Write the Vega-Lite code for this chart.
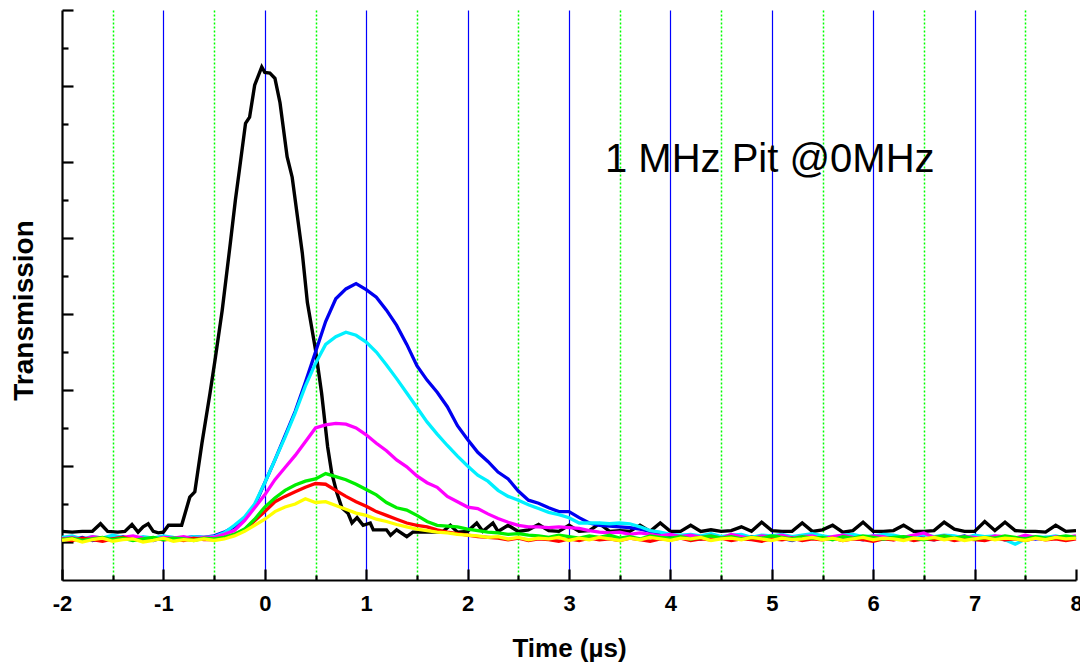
{
"$schema":"https://vega.github.io/schema/vega-lite/v6.json",
"width":1014,"height":570,
"autosize":{"type":"none"},
"padding":{"left":62,"top":10,"right":4,"bottom":85},
"background":"white",
"config":{"view":{"stroke":null},"font":"Liberation Sans","axis":{"domainColor":"black","tickColor":"black","domainWidth":2.2,"tickWidth":2.2,"labelColor":"black","titleColor":"black"}},
"resolve":{"axis":{"x":"independent","y":"independent"}},
"layer":[
{"data":{"values":[{"t":-2,"v":0.14},{"t":-1.9,"v":0.13},{"t":-1.8,"v":0.14},{"t":-1.7,"v":0.14},{"t":-1.62,"v":0.24},{"t":-1.55,"v":0.14},{"t":-1.45,"v":0.13},{"t":-1.38,"v":0.14},{"t":-1.31,"v":0.23},{"t":-1.25,"v":0.13},{"t":-1.2,"v":0.2},{"t":-1.15,"v":0.24},{"t":-1.1,"v":0.14},{"t":-1.05,"v":0.12},{"t":-1.0,"v":0.13},{"t":-0.95,"v":0.22},{"t":-0.82,"v":0.22},{"t":-0.74,"v":0.59},{"t":-0.69,"v":0.66},{"t":-0.62,"v":1.3},{"t":-0.54,"v":1.96},{"t":-0.49,"v":2.4},{"t":-0.42,"v":3.05},{"t":-0.34,"v":3.93},{"t":-0.29,"v":4.5},{"t":-0.25,"v":4.9},{"t":-0.19,"v":5.51},{"t":-0.15,"v":5.59},{"t":-0.1,"v":6.01},{"t":-0.03,"v":6.25},{"t":0.0,"v":6.18},{"t":0.05,"v":6.17},{"t":0.1,"v":6.1},{"t":0.15,"v":5.78},{"t":0.22,"v":5.07},{"t":0.27,"v":4.8},{"t":0.37,"v":3.8},{"t":0.42,"v":3.15},{"t":0.5,"v":2.53},{"t":0.56,"v":1.96},{"t":0.62,"v":1.25},{"t":0.66,"v":0.91},{"t":0.71,"v":0.65},{"t":0.76,"v":0.45},{"t":0.82,"v":0.38},{"t":0.86,"v":0.25},{"t":0.91,"v":0.32},{"t":0.97,"v":0.22},{"t":1.04,"v":0.25},{"t":1.07,"v":0.16},{"t":1.2,"v":0.16},{"t":1.24,"v":0.09},{"t":1.3,"v":0.16},{"t":1.4,"v":0.07},{"t":1.46,"v":0.13},{"t":1.66,"v":0.13},{"t":1.75,"v":0.13},{"t":1.83,"v":0.22},{"t":1.9,"v":0.13},{"t":2.0,"v":0.14},{"t":2.09,"v":0.25},{"t":2.15,"v":0.14},{"t":2.25,"v":0.25},{"t":2.3,"v":0.14},{"t":2.4,"v":0.22},{"t":2.5,"v":0.14},{"t":2.6,"v":0.16},{"t":2.7,"v":0.23},{"t":2.8,"v":0.15},{"t":2.9,"v":0.14},{"t":3.0,"v":0.22},{"t":3.1,"v":0.14},{"t":3.2,"v":0.15},{"t":3.3,"v":0.24},{"t":3.4,"v":0.14},{"t":3.5,"v":0.15},{"t":3.6,"v":0.14},{"t":3.7,"v":0.22},{"t":3.8,"v":0.14},{"t":3.9,"v":0.25},{"t":4.0,"v":0.14},{"t":4.1,"v":0.14},{"t":4.2,"v":0.22},{"t":4.3,"v":0.14},{"t":4.4,"v":0.16},{"t":4.5,"v":0.14},{"t":4.6,"v":0.15},{"t":4.7,"v":0.2},{"t":4.8,"v":0.14},{"t":4.9,"v":0.26},{"t":5.0,"v":0.15},{"t":5.1,"v":0.14},{"t":5.2,"v":0.14},{"t":5.3,"v":0.25},{"t":5.4,"v":0.14},{"t":5.5,"v":0.16},{"t":5.6,"v":0.22},{"t":5.7,"v":0.13},{"t":5.8,"v":0.15},{"t":5.9,"v":0.26},{"t":6.0,"v":0.14},{"t":6.1,"v":0.14},{"t":6.2,"v":0.15},{"t":6.3,"v":0.22},{"t":6.4,"v":0.14},{"t":6.5,"v":0.14},{"t":6.6,"v":0.15},{"t":6.7,"v":0.26},{"t":6.8,"v":0.17},{"t":6.9,"v":0.14},{"t":7.0,"v":0.14},{"t":7.1,"v":0.27},{"t":7.2,"v":0.15},{"t":7.3,"v":0.26},{"t":7.4,"v":0.15},{"t":7.5,"v":0.14},{"t":7.6,"v":0.14},{"t":7.7,"v":0.13},{"t":7.8,"v":0.22},{"t":7.9,"v":0.14},{"t":8.0,"v":0.15}]},
 "mark":{"type":"line","color":"black","strokeWidth":3.4,"clip":true},
 "encoding":{
  "x":{"field":"t","type":"quantitative","scale":{"domain":[-2,8],"nice":false,"zero":false},
   "axis":{"orient":"bottom","values":[-2,-1,0,1,2,3,4,5,6,7,8],"labelExpr":"'' + datum.value","title":"Time (µs)","titleFont":"Liberation Sans","titleFontSize":26,"titleFontWeight":"bold","titleY":68,"titleBaseline":"middle","labelFont":"Liberation Sans","labelFontSize":22,"labelFontWeight":"bold","labelFlush":false,"labelPadding":24,"tickSize":-11,"grid":true,"gridColor":"#0000ff","gridWidth":1.2,"gridOpacity":{"condition":{"test":"datum.value <= -2 || datum.value >= 8","value":0},"value":1}}},
  "y":{"field":"v","type":"quantitative","scale":{"domain":[-0.5,7],"nice":false,"zero":false},
   "axis":{"orient":"left","values":[0,1,2,3,4,5,6,7],"labels":false,"tickSize":-11,"grid":false,"title":"Transmission","titleFont":"Liberation Sans","titleFontSize":28,"titleFontWeight":"bold","titleX":-38,"titleY":300,"titleBaseline":"middle","titleAngle":-90}}}},
{"data":{"values":[{"t":-2,"v":0.05},{"t":-1.9,"v":0.03},{"t":-1.8,"v":0.06},{"t":-1.7,"v":0.02},{"t":-1.6,"v":0.05},{"t":-1.5,"v":0.04},{"t":-1.4,"v":0.07},{"t":-1.3,"v":0.03},{"t":-1.2,"v":0.05},{"t":-1.1,"v":0.02},{"t":-1,"v":0.06},{"t":-0.9,"v":0.04},{"t":-0.8,"v":0.05},{"t":-0.7,"v":0.07},{"t":-0.6,"v":0.06},{"t":-0.5,"v":0.08},{"t":-0.4,"v":0.13},{"t":-0.3,"v":0.2},{"t":-0.2,"v":0.3},{"t":-0.1,"v":0.48},{"t":0,"v":0.78},{"t":0.1,"v":1.08},{"t":0.2,"v":1.4},{"t":0.3,"v":1.72},{"t":0.4,"v":2.1},{"t":0.5,"v":2.5},{"t":0.6,"v":2.9},{"t":0.7,"v":3.2},{"t":0.8,"v":3.33},{"t":0.9,"v":3.4},{"t":1,"v":3.32},{"t":1.1,"v":3.22},{"t":1.2,"v":3.05},{"t":1.3,"v":2.85},{"t":1.4,"v":2.6},{"t":1.5,"v":2.32},{"t":1.6,"v":2.13},{"t":1.7,"v":1.97},{"t":1.8,"v":1.78},{"t":1.9,"v":1.53},{"t":2,"v":1.35},{"t":2.1,"v":1.18},{"t":2.2,"v":1.06},{"t":2.3,"v":0.92},{"t":2.4,"v":0.83},{"t":2.5,"v":0.67},{"t":2.6,"v":0.55},{"t":2.7,"v":0.51},{"t":2.8,"v":0.45},{"t":2.9,"v":0.4},{"t":3,"v":0.4},{"t":3.1,"v":0.32},{"t":3.2,"v":0.25},{"t":3.3,"v":0.22},{"t":3.4,"v":0.21},{"t":3.5,"v":0.2},{"t":3.6,"v":0.19},{"t":3.7,"v":0.17},{"t":3.8,"v":0.14},{"t":3.9,"v":0.11},{"t":4,"v":0.08},{"t":4.1,"v":0.07},{"t":4.2,"v":0.05},{"t":4.3,"v":0.04},{"t":4.4,"v":0.08},{"t":4.5,"v":0.06},{"t":4.6,"v":0.03},{"t":4.7,"v":0.05},{"t":4.8,"v":0.07},{"t":4.9,"v":0.04},{"t":5,"v":0.06},{"t":5.1,"v":0.05},{"t":5.2,"v":0.02},{"t":5.3,"v":0.06},{"t":5.4,"v":0.08},{"t":5.5,"v":0.05},{"t":5.6,"v":0.04},{"t":5.7,"v":0.06},{"t":5.8,"v":0.05},{"t":5.9,"v":0.03},{"t":6,"v":0.07},{"t":6.1,"v":0.05},{"t":6.2,"v":0.06},{"t":6.3,"v":0.04},{"t":6.4,"v":0.07},{"t":6.5,"v":0.05},{"t":6.6,"v":0.03},{"t":6.7,"v":0.06},{"t":6.8,"v":0.05},{"t":6.9,"v":0.08},{"t":7,"v":0.04},{"t":7.1,"v":0.05},{"t":7.2,"v":0.06},{"t":7.3,"v":0.03},{"t":7.4,"v":0.05},{"t":7.5,"v":0.07},{"t":7.6,"v":0.04},{"t":7.7,"v":0.06},{"t":7.8,"v":0.05},{"t":7.9,"v":0.04},{"t":8,"v":0.06}]},
 "mark":{"type":"line","color":"#0000f0","strokeWidth":3.3},
 "encoding":{
  "x":{"field":"t","type":"quantitative","axis":{"orient":"bottom","values":[-1.5,-0.5,0.5,1.5,2.5,3.5,4.5,5.5,6.5,7.5],"labels":false,"domain":false,"title":null,"tickSize":-5,"grid":true,"gridColor":"#00ff00","gridDash":[2,2],"gridWidth":1.5}},
  "y":{"field":"v","type":"quantitative","axis":{"orient":"left","values":[0.5,1.5,2.5,3.5,4.5,5.5,6.5],"labels":false,"domain":false,"title":null,"tickSize":-6,"grid":false}}}},
{"data":{"values":[{"t":-2,"v":0.06},{"t":-1.9,"v":0.08},{"t":-1.8,"v":0.04},{"t":-1.7,"v":0.07},{"t":-1.6,"v":0.05},{"t":-1.5,"v":0.09},{"t":-1.4,"v":0.06},{"t":-1.3,"v":0.04},{"t":-1.2,"v":0.07},{"t":-1.1,"v":0.05},{"t":-1,"v":0.08},{"t":-0.9,"v":0.06},{"t":-0.8,"v":0.05},{"t":-0.7,"v":0.07},{"t":-0.6,"v":0.06},{"t":-0.5,"v":0.07},{"t":-0.4,"v":0.12},{"t":-0.3,"v":0.22},{"t":-0.2,"v":0.33},{"t":-0.1,"v":0.5},{"t":0,"v":0.78},{"t":0.1,"v":1.08},{"t":0.2,"v":1.38},{"t":0.3,"v":1.7},{"t":0.4,"v":2.05},{"t":0.5,"v":2.35},{"t":0.6,"v":2.6},{"t":0.7,"v":2.7},{"t":0.8,"v":2.76},{"t":0.9,"v":2.72},{"t":1,"v":2.63},{"t":1.1,"v":2.5},{"t":1.2,"v":2.33},{"t":1.3,"v":2.15},{"t":1.4,"v":1.96},{"t":1.5,"v":1.77},{"t":1.6,"v":1.58},{"t":1.7,"v":1.42},{"t":1.8,"v":1.27},{"t":1.9,"v":1.13},{"t":2,"v":1.0},{"t":2.1,"v":0.88},{"t":2.2,"v":0.8},{"t":2.3,"v":0.68},{"t":2.4,"v":0.6},{"t":2.5,"v":0.55},{"t":2.6,"v":0.49},{"t":2.7,"v":0.44},{"t":2.8,"v":0.39},{"t":2.9,"v":0.36},{"t":3,"v":0.32},{"t":3.1,"v":0.25},{"t":3.2,"v":0.25},{"t":3.3,"v":0.25},{"t":3.4,"v":0.24},{"t":3.5,"v":0.25},{"t":3.6,"v":0.24},{"t":3.7,"v":0.2},{"t":3.8,"v":0.15},{"t":3.9,"v":0.13},{"t":4,"v":0.1},{"t":4.1,"v":0.09},{"t":4.2,"v":0.1},{"t":4.3,"v":0.08},{"t":4.4,"v":0.11},{"t":4.5,"v":0.07},{"t":4.6,"v":0.09},{"t":4.7,"v":0.1},{"t":4.8,"v":0.06},{"t":4.9,"v":0.09},{"t":5,"v":0.08},{"t":5.1,"v":0.1},{"t":5.2,"v":0.07},{"t":5.3,"v":0.09},{"t":5.4,"v":0.11},{"t":5.5,"v":0.08},{"t":5.6,"v":0.06},{"t":5.7,"v":0.09},{"t":5.8,"v":0.1},{"t":5.9,"v":0.07},{"t":6,"v":0.08},{"t":6.1,"v":0.1},{"t":6.2,"v":0.09},{"t":6.3,"v":0.06},{"t":6.4,"v":0.08},{"t":6.5,"v":0.1},{"t":6.6,"v":0.07},{"t":6.7,"v":0.09},{"t":6.8,"v":0.08},{"t":6.9,"v":0.05},{"t":7,"v":0.09},{"t":7.1,"v":0.07},{"t":7.2,"v":0.08},{"t":7.3,"v":0.03},{"t":7.4,"v":-0.03},{"t":7.5,"v":0.04},{"t":7.6,"v":0.07},{"t":7.7,"v":0.06},{"t":7.8,"v":0.08},{"t":7.9,"v":0.05},{"t":8,"v":0.07}]},
 "mark":{"type":"line","color":"#00f0ff","strokeWidth":3.3},
 "encoding":{"x":{"field":"t","type":"quantitative","axis":null},"y":{"field":"v","type":"quantitative","axis":null}}},
{"data":{"values":[{"t":-2,"v":0.04},{"t":-1.9,"v":0.06},{"t":-1.8,"v":0.03},{"t":-1.7,"v":0.07},{"t":-1.6,"v":0.05},{"t":-1.5,"v":0.04},{"t":-1.4,"v":0.06},{"t":-1.3,"v":0.08},{"t":-1.2,"v":0.05},{"t":-1.1,"v":0.03},{"t":-1,"v":0.06},{"t":-0.9,"v":0.05},{"t":-0.8,"v":0.07},{"t":-0.7,"v":0.04},{"t":-0.6,"v":0.06},{"t":-0.5,"v":0.06},{"t":-0.4,"v":0.1},{"t":-0.3,"v":0.15},{"t":-0.2,"v":0.28},{"t":-0.1,"v":0.45},{"t":0,"v":0.62},{"t":0.1,"v":0.82},{"t":0.2,"v":0.98},{"t":0.3,"v":1.14},{"t":0.4,"v":1.32},{"t":0.5,"v":1.5},{"t":0.6,"v":1.54},{"t":0.7,"v":1.56},{"t":0.8,"v":1.55},{"t":0.9,"v":1.5},{"t":1,"v":1.41},{"t":1.1,"v":1.3},{"t":1.2,"v":1.2},{"t":1.3,"v":1.08},{"t":1.4,"v":0.99},{"t":1.5,"v":0.87},{"t":1.6,"v":0.78},{"t":1.7,"v":0.72},{"t":1.8,"v":0.6},{"t":1.9,"v":0.53},{"t":2,"v":0.46},{"t":2.1,"v":0.44},{"t":2.2,"v":0.37},{"t":2.3,"v":0.31},{"t":2.4,"v":0.26},{"t":2.5,"v":0.22},{"t":2.6,"v":0.2},{"t":2.7,"v":0.2},{"t":2.8,"v":0.19},{"t":2.9,"v":0.2},{"t":3,"v":0.19},{"t":3.1,"v":0.18},{"t":3.2,"v":0.15},{"t":3.3,"v":0.13},{"t":3.4,"v":0.12},{"t":3.5,"v":0.13},{"t":3.6,"v":0.1},{"t":3.7,"v":0.12},{"t":3.8,"v":0.1},{"t":3.9,"v":0.08},{"t":4,"v":0.1},{"t":4.1,"v":0.07},{"t":4.2,"v":0.09},{"t":4.3,"v":0.06},{"t":4.4,"v":0.08},{"t":4.5,"v":0.05},{"t":4.6,"v":0.1},{"t":4.7,"v":0.07},{"t":4.8,"v":0.04},{"t":4.9,"v":0.08},{"t":5,"v":0.06},{"t":5.1,"v":0.09},{"t":5.2,"v":0.05},{"t":5.3,"v":0.07},{"t":5.4,"v":0.08},{"t":5.5,"v":0.04},{"t":5.6,"v":0.07},{"t":5.7,"v":0.09},{"t":5.8,"v":0.06},{"t":5.9,"v":0.05},{"t":6,"v":0.08},{"t":6.1,"v":0.07},{"t":6.2,"v":0.03},{"t":6.3,"v":0.06},{"t":6.4,"v":0.09},{"t":6.5,"v":0.12},{"t":6.6,"v":0.06},{"t":6.7,"v":0.08},{"t":6.8,"v":0.05},{"t":6.9,"v":0.07},{"t":7,"v":0.06},{"t":7.1,"v":0.04},{"t":7.2,"v":0.08},{"t":7.3,"v":0.07},{"t":7.4,"v":0.05},{"t":7.5,"v":0.09},{"t":7.6,"v":0.06},{"t":7.7,"v":0.04},{"t":7.8,"v":0.07},{"t":7.9,"v":0.06},{"t":8,"v":0.08}]},
 "mark":{"type":"line","color":"#ff00ff","strokeWidth":3.3},
 "encoding":{"x":{"field":"t","type":"quantitative","axis":null},"y":{"field":"v","type":"quantitative","axis":null}}},
{"data":{"values":[{"t":-2,"v":0.04},{"t":-1.9,"v":0.02},{"t":-1.8,"v":0.05},{"t":-1.7,"v":0.03},{"t":-1.6,"v":0.01},{"t":-1.5,"v":0.04},{"t":-1.4,"v":0.06},{"t":-1.3,"v":0.03},{"t":-1.2,"v":0.02},{"t":-1.1,"v":0.05},{"t":-1,"v":0.03},{"t":-0.9,"v":0.04},{"t":-0.8,"v":0.02},{"t":-0.7,"v":0.05},{"t":-0.6,"v":0.03},{"t":-0.5,"v":0.03},{"t":-0.4,"v":0.05},{"t":-0.3,"v":0.1},{"t":-0.2,"v":0.16},{"t":-0.1,"v":0.28},{"t":0,"v":0.4},{"t":0.1,"v":0.53},{"t":0.2,"v":0.6},{"t":0.3,"v":0.66},{"t":0.4,"v":0.72},{"t":0.5,"v":0.77},{"t":0.6,"v":0.76},{"t":0.7,"v":0.68},{"t":0.8,"v":0.6},{"t":0.9,"v":0.53},{"t":1,"v":0.47},{"t":1.1,"v":0.4},{"t":1.2,"v":0.35},{"t":1.3,"v":0.3},{"t":1.4,"v":0.25},{"t":1.5,"v":0.22},{"t":1.6,"v":0.2},{"t":1.7,"v":0.16},{"t":1.8,"v":0.13},{"t":1.9,"v":0.11},{"t":2,"v":0.09},{"t":2.1,"v":0.07},{"t":2.2,"v":0.06},{"t":2.3,"v":0.05},{"t":2.4,"v":0.03},{"t":2.5,"v":0.05},{"t":2.6,"v":0.02},{"t":2.7,"v":0.04},{"t":2.8,"v":0.03},{"t":2.9,"v":0.01},{"t":3,"v":0.04},{"t":3.1,"v":0.02},{"t":3.2,"v":0.05},{"t":3.3,"v":0.03},{"t":3.4,"v":0.04},{"t":3.5,"v":0.02},{"t":3.6,"v":0.05},{"t":3.7,"v":0.03},{"t":3.8,"v":0.01},{"t":3.9,"v":0.04},{"t":4,"v":0.03},{"t":4.1,"v":0.05},{"t":4.2,"v":0.02},{"t":4.3,"v":0.04},{"t":4.4,"v":0.03},{"t":4.5,"v":0.05},{"t":4.6,"v":0.02},{"t":4.7,"v":0.04},{"t":4.8,"v":0.03},{"t":4.9,"v":0.01},{"t":5,"v":0.04},{"t":5.1,"v":0.03},{"t":5.2,"v":0.05},{"t":5.3,"v":0.02},{"t":5.4,"v":0.04},{"t":5.5,"v":0.03},{"t":5.6,"v":0.05},{"t":5.7,"v":0.02},{"t":5.8,"v":0.04},{"t":5.9,"v":0.03},{"t":6,"v":0.01},{"t":6.1,"v":0.04},{"t":6.2,"v":0.03},{"t":6.3,"v":0.05},{"t":6.4,"v":0.02},{"t":6.5,"v":0.04},{"t":6.6,"v":0.03},{"t":6.7,"v":0.05},{"t":6.8,"v":0.02},{"t":6.9,"v":0.04},{"t":7,"v":0.03},{"t":7.1,"v":0.02},{"t":7.2,"v":0.05},{"t":7.3,"v":0.03},{"t":7.4,"v":0.04},{"t":7.5,"v":0.02},{"t":7.6,"v":0.05},{"t":7.7,"v":0.03},{"t":7.8,"v":0.04},{"t":7.9,"v":0.02},{"t":8,"v":0.04}]},
 "mark":{"type":"line","color":"#ff0000","strokeWidth":3.3},
 "encoding":{"x":{"field":"t","type":"quantitative","axis":null},"y":{"field":"v","type":"quantitative","axis":null}}},
{"data":{"values":[{"t":-2,"v":0.03},{"t":-1.9,"v":0.05},{"t":-1.8,"v":0.02},{"t":-1.7,"v":0.04},{"t":-1.6,"v":0.06},{"t":-1.5,"v":0.03},{"t":-1.4,"v":0.05},{"t":-1.3,"v":0.02},{"t":-1.2,"v":0.04},{"t":-1.1,"v":0.06},{"t":-1,"v":0.03},{"t":-0.9,"v":0.05},{"t":-0.8,"v":0.04},{"t":-0.7,"v":0.02},{"t":-0.6,"v":0.05},{"t":-0.5,"v":0.04},{"t":-0.4,"v":0.06},{"t":-0.3,"v":0.1},{"t":-0.2,"v":0.17},{"t":-0.1,"v":0.3},{"t":0,"v":0.46},{"t":0.1,"v":0.58},{"t":0.2,"v":0.68},{"t":0.3,"v":0.75},{"t":0.4,"v":0.8},{"t":0.5,"v":0.83},{"t":0.6,"v":0.9},{"t":0.7,"v":0.86},{"t":0.8,"v":0.82},{"t":0.9,"v":0.76},{"t":1,"v":0.69},{"t":1.1,"v":0.62},{"t":1.2,"v":0.52},{"t":1.3,"v":0.45},{"t":1.4,"v":0.42},{"t":1.5,"v":0.35},{"t":1.6,"v":0.27},{"t":1.7,"v":0.22},{"t":1.8,"v":0.21},{"t":1.9,"v":0.2},{"t":2,"v":0.17},{"t":2.1,"v":0.15},{"t":2.2,"v":0.13},{"t":2.3,"v":0.12},{"t":2.4,"v":0.1},{"t":2.5,"v":0.11},{"t":2.6,"v":0.09},{"t":2.7,"v":0.08},{"t":2.8,"v":0.06},{"t":2.9,"v":0.09},{"t":3,"v":0.07},{"t":3.1,"v":0.05},{"t":3.2,"v":0.08},{"t":3.3,"v":0.06},{"t":3.4,"v":0.09},{"t":3.5,"v":0.05},{"t":3.6,"v":0.07},{"t":3.7,"v":0.04},{"t":3.8,"v":0.08},{"t":3.9,"v":0.06},{"t":4,"v":0.05},{"t":4.1,"v":0.07},{"t":4.2,"v":0.04},{"t":4.3,"v":0.06},{"t":4.4,"v":0.08},{"t":4.5,"v":0.05},{"t":4.6,"v":0.07},{"t":4.7,"v":0.04},{"t":4.8,"v":0.06},{"t":4.9,"v":0.05},{"t":5,"v":0.08},{"t":5.1,"v":0.06},{"t":5.2,"v":0.04},{"t":5.3,"v":0.07},{"t":5.4,"v":0.05},{"t":5.5,"v":0.06},{"t":5.6,"v":0.03},{"t":5.7,"v":0.07},{"t":5.8,"v":0.05},{"t":5.9,"v":0.08},{"t":6,"v":0.06},{"t":6.1,"v":0.04},{"t":6.2,"v":0.06},{"t":6.3,"v":0.07},{"t":6.4,"v":0.05},{"t":6.5,"v":0.03},{"t":6.6,"v":0.06},{"t":6.7,"v":0.08},{"t":6.8,"v":0.05},{"t":6.9,"v":0.07},{"t":7,"v":0.04},{"t":7.1,"v":0.06},{"t":7.2,"v":0.05},{"t":7.3,"v":0.08},{"t":7.4,"v":0.06},{"t":7.5,"v":0.04},{"t":7.6,"v":0.07},{"t":7.7,"v":0.05},{"t":7.8,"v":0.06},{"t":7.9,"v":0.08},{"t":8,"v":0.06}]},
 "mark":{"type":"line","color":"#00ee00","strokeWidth":3.3},
 "encoding":{"x":{"field":"t","type":"quantitative","axis":null},"y":{"field":"v","type":"quantitative","axis":null}}},
{"data":{"values":[{"t":-2,"v":0.02},{"t":-1.9,"v":0.04},{"t":-1.8,"v":0.0},{"t":-1.7,"v":0.03},{"t":-1.6,"v":0.05},{"t":-1.5,"v":0.01},{"t":-1.4,"v":0.03},{"t":-1.3,"v":0.04},{"t":-1.2,"v":0.0},{"t":-1.1,"v":0.02},{"t":-1,"v":0.05},{"t":-0.9,"v":0.01},{"t":-0.8,"v":0.03},{"t":-0.7,"v":0.02},{"t":-0.6,"v":0.04},{"t":-0.5,"v":0.02},{"t":-0.4,"v":0.04},{"t":-0.3,"v":0.08},{"t":-0.2,"v":0.14},{"t":-0.1,"v":0.22},{"t":0,"v":0.3},{"t":0.1,"v":0.4},{"t":0.2,"v":0.46},{"t":0.3,"v":0.5},{"t":0.4,"v":0.57},{"t":0.5,"v":0.52},{"t":0.6,"v":0.53},{"t":0.7,"v":0.48},{"t":0.8,"v":0.43},{"t":0.9,"v":0.38},{"t":1,"v":0.35},{"t":1.1,"v":0.3},{"t":1.2,"v":0.27},{"t":1.3,"v":0.23},{"t":1.4,"v":0.2},{"t":1.5,"v":0.17},{"t":1.6,"v":0.15},{"t":1.7,"v":0.13},{"t":1.8,"v":0.12},{"t":1.9,"v":0.1},{"t":2,"v":0.09},{"t":2.1,"v":0.08},{"t":2.2,"v":0.06},{"t":2.3,"v":0.07},{"t":2.4,"v":0.04},{"t":2.5,"v":0.06},{"t":2.6,"v":0.03},{"t":2.7,"v":0.05},{"t":2.8,"v":0.04},{"t":2.9,"v":0.06},{"t":3,"v":0.02},{"t":3.1,"v":0.05},{"t":3.2,"v":0.03},{"t":3.3,"v":0.06},{"t":3.4,"v":0.04},{"t":3.5,"v":0.02},{"t":3.6,"v":0.05},{"t":3.7,"v":0.03},{"t":3.8,"v":0.06},{"t":3.9,"v":0.04},{"t":4,"v":0.02},{"t":4.1,"v":0.05},{"t":4.2,"v":0.04},{"t":4.3,"v":0.06},{"t":4.4,"v":0.02},{"t":4.5,"v":0.04},{"t":4.6,"v":0.05},{"t":4.7,"v":0.03},{"t":4.8,"v":0.06},{"t":4.9,"v":0.04},{"t":5,"v":0.02},{"t":5.1,"v":0.05},{"t":5.2,"v":0.03},{"t":5.3,"v":0.04},{"t":5.4,"v":0.06},{"t":5.5,"v":0.03},{"t":5.6,"v":0.05},{"t":5.7,"v":0.02},{"t":5.8,"v":0.04},{"t":5.9,"v":0.06},{"t":6,"v":0.03},{"t":6.1,"v":0.05},{"t":6.2,"v":0.04},{"t":6.3,"v":0.02},{"t":6.4,"v":0.05},{"t":6.5,"v":0.04},{"t":6.6,"v":0.06},{"t":6.7,"v":0.03},{"t":6.8,"v":0.05},{"t":6.9,"v":0.02},{"t":7,"v":0.04},{"t":7.1,"v":0.06},{"t":7.2,"v":0.03},{"t":7.3,"v":0.05},{"t":7.4,"v":0.04},{"t":7.5,"v":0.02},{"t":7.6,"v":0.05},{"t":7.7,"v":0.03},{"t":7.8,"v":0.06},{"t":7.9,"v":0.04},{"t":8,"v":0.05}]},
 "mark":{"type":"line","color":"#ffff00","strokeWidth":3.3},
 "encoding":{"x":{"field":"t","type":"quantitative","axis":null},"y":{"field":"v","type":"quantitative","axis":null}}},
{"data":{"values":[{"label":"1 MHz Pit @0MHz"}]},
 "mark":{"type":"text","align":"left","baseline":"middle","font":"Liberation Sans","fontSize":40,"color":"black"},
 "encoding":{"text":{"field":"label"},"x":{"datum":3.355,"type":"quantitative","axis":null},"y":{"datum":5.03,"type":"quantitative","axis":null}}}
]
}
